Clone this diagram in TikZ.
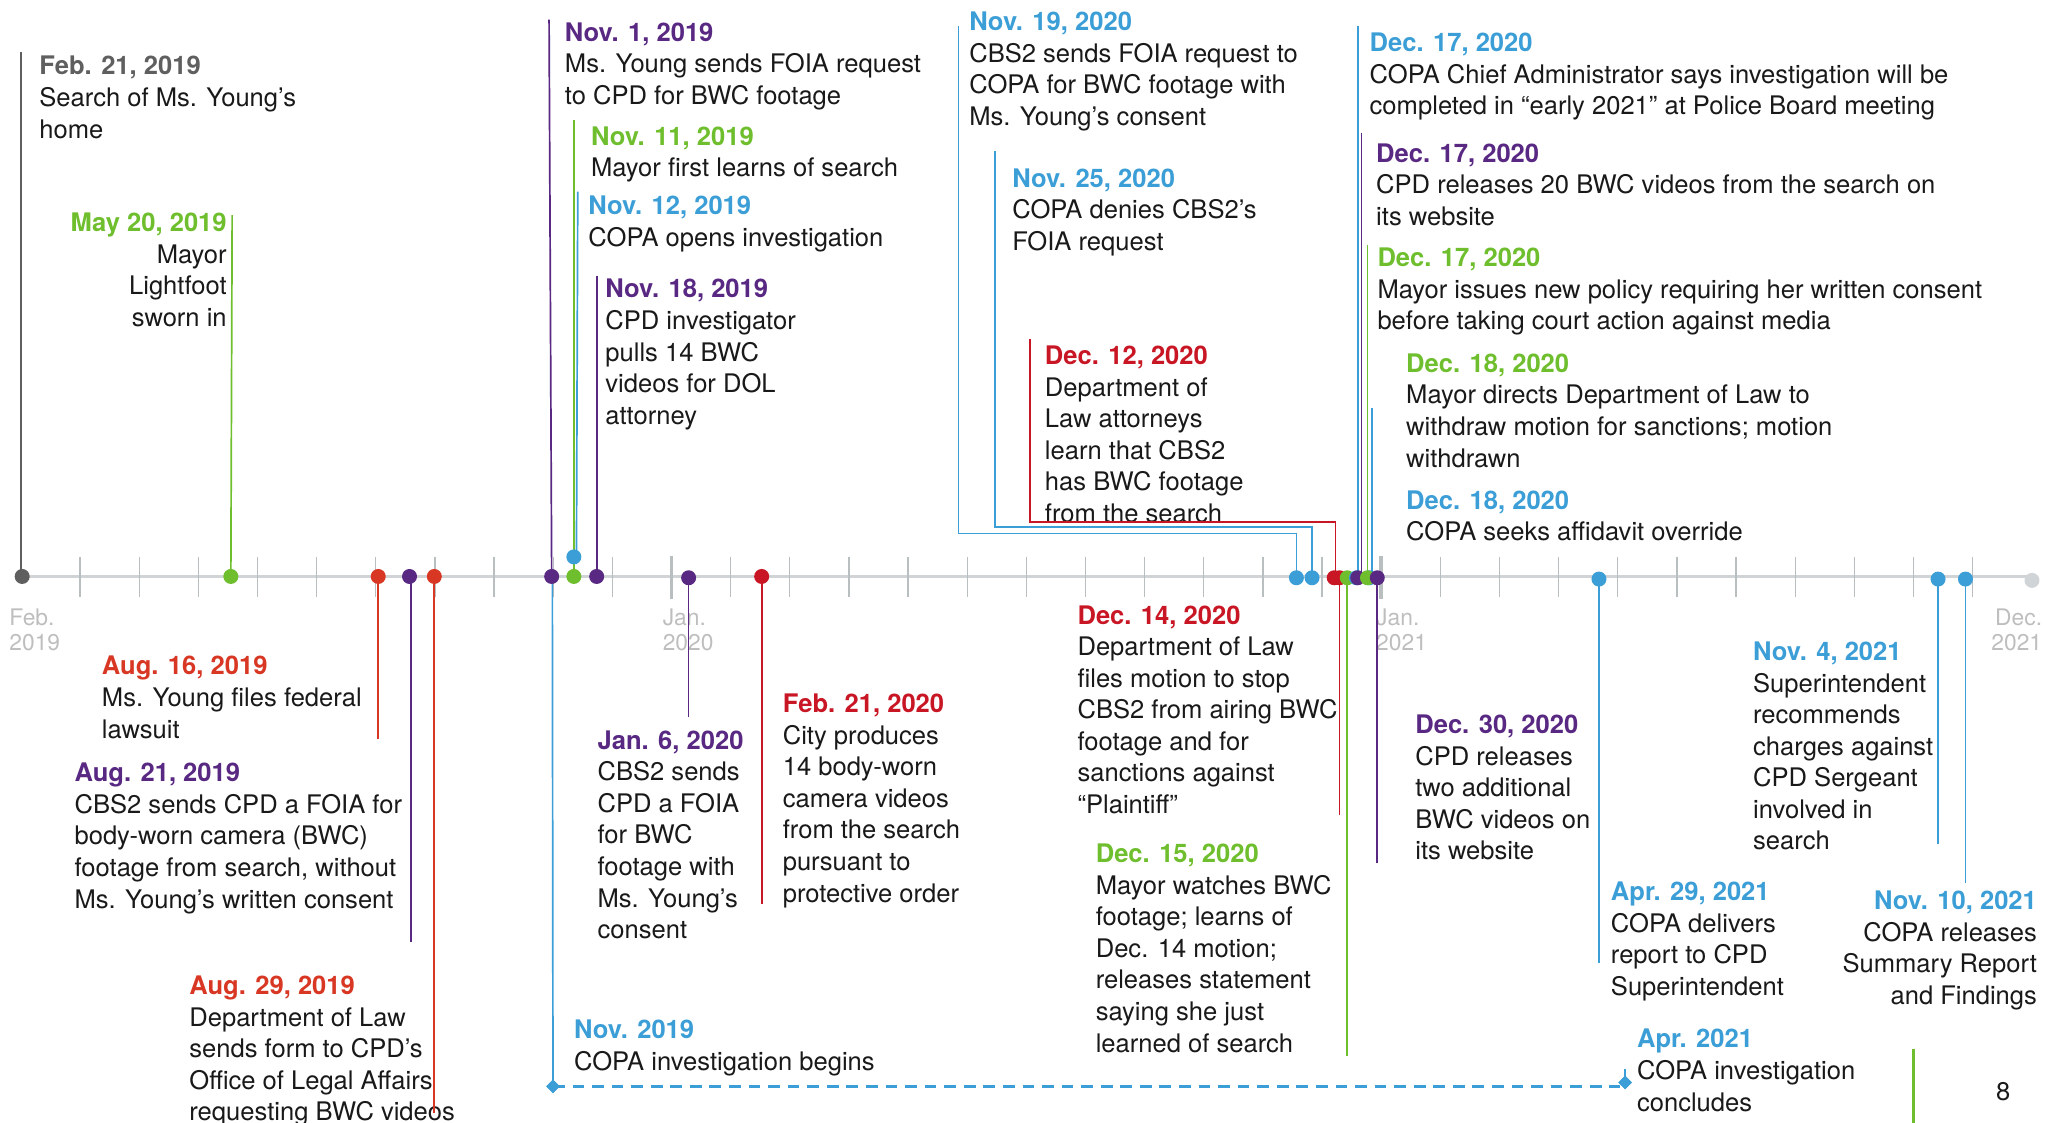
\documentclass[tikz,border=0pt]{standalone}
\usepackage{fontspec}
\setmainfont{TeX Gyre Heros}
\usetikzlibrary{shapes.geometric}
\definecolor{cgray}{RGB}{95,95,95}
\definecolor{cgreen}{RGB}{110,190,45}
\definecolor{cpurple}{RGB}{88,40,130}
\definecolor{cblue}{RGB}{60,158,214}
\definecolor{cred}{RGB}{200,22,36}
\definecolor{corange}{RGB}{215,55,35}
\definecolor{caxis}{RGB}{208,212,214}
\definecolor{ctick}{RGB}{185,190,192}
\definecolor{clabel}{RGB}{190,190,190}
\definecolor{ctext}{RGB}{25,25,25}
\newcommand\evfont{\fontsize{19.6}{24.2}\selectfont}
\newcommand\axfont{\fontsize{17.5}{18.5}\selectfont}
\newcommand\dt[2]{{\bfseries\color{#1}#2}}
\tikzset{
  txt/.style={anchor=north west, inner sep=0pt, align=left, font=\evfont, text=ctext},
  txtr/.style={anchor=north east, inner sep=0pt, align=right, font=\evfont, text=ctext},
  axlab/.style={anchor=north west, inner sep=0pt, align=left, font=\axfont, text=clabel},
  ln/.style={line width=1.3pt, draw=#1},
  dot/.style={circle, inner sep=0pt, minimum size=11.5pt, fill=#1, draw=none},
  dmd/.style={diamond, inner sep=0pt, minimum size=10.5pt, fill=cblue, draw=none},
}
\begin{document}
\begin{tikzpicture}[x=1pt,y=-1pt]
\useasboundingbox (0,0) rectangle (1568,861);
% axis
\draw[caxis, line width=2.5pt] (17,442) -- (1558,442);
\foreach \m in {1,...,33}{
  \draw[ctick, line width=1pt] ({16+45.35*\m},427) -- ({16+45.35*\m},458);
}
\draw[ctick, line width=3pt] ({16+45.35*11},426) -- ({16+45.35*11},459);
\draw[ctick, line width=3pt] ({16+45.35*23},426) -- ({16+45.35*23},459);
\node[axlab] (lfeb) at (7,467) {Feb.\\2019};
\node[axlab] (ljan20) at (508,467) {Jan.\\2020};
\node[axlab] (ljan21) at (1055,467) {Jan.\\2021};
\node[axlab, anchor=north east, align=right] (ldec) at (1566,467) {Dec.\\2021};

% texts above
\node[txt] (t01) at (30,43) {\dt{cgray}{Feb. 21, 2019}\\Search of Ms. Young’s\\home};
\node[txtr] (t02) at (174,163) {\dt{cgreen}{May 20, 2019}\\Mayor\\Lightfoot\\sworn in};
\node[txt] (t03) at (433,17) {\dt{cpurple}{Nov. 1, 2019}\\Ms. Young sends FOIA request\\to CPD for BWC footage};
\node[txt] (t04) at (453,97) {\dt{cgreen}{Nov. 11, 2019}\\Mayor first learns of search};
\node[txt] (t05) at (451,150) {\dt{cblue}{Nov. 12, 2019}\\COPA opens investigation};
\node[txt] (t06) at (464,214) {\dt{cpurple}{Nov. 18, 2019}\\CPD investigator\\pulls 14 BWC\\videos for DOL\\attorney};
\node[txt] (t07) at (743,9) {\dt{cblue}{Nov. 19, 2020}\\CBS2 sends FOIA request to\\COPA for BWC footage with\\Ms. Young’s consent};
\node[txt] (t08) at (776,129) {\dt{cblue}{Nov. 25, 2020}\\COPA denies CBS2’s\\FOIA request};
\node[txt] (t09) at (801,265) {\dt{cred}{Dec. 12, 2020}\\Department of\\Law attorneys\\learn that CBS2\\has BWC footage\\from the search};
\node[txt] (t10) at (1050,25) {\dt{cblue}{Dec. 17, 2020}\\COPA Chief Administrator says investigation will be\\completed in “early 2021” at Police Board meeting};
\node[txt] (t11) at (1055,110) {\dt{cpurple}{Dec. 17, 2020}\\CPD releases 20 BWC videos from the search on\\its website};
\node[txt] (t12) at (1056,190) {\dt{cgreen}{Dec. 17, 2020}\\Mayor issues new policy requiring her written consent\\before taking court action against media};
\node[txt] (t13) at (1078,271) {\dt{cgreen}{Dec. 18, 2020}\\Mayor directs Department of Law to\\withdraw motion for sanctions; motion\\withdrawn};
\node[txt] (t14) at (1078,376) {\dt{cblue}{Dec. 18, 2020}\\COPA seeks affidavit override};

% texts below
\node[txt] (b01) at (78,503) {\dt{corange}{Aug. 16, 2019}\\Ms. Young files federal\\lawsuit};
\node[txt] (b02) at (57,585) {\dt{cpurple}{Aug. 21, 2019}\\CBS2 sends CPD a FOIA for\\body-worn camera (BWC)\\footage from search, without\\Ms. Young’s written consent};
\node[txt] (b03) at (145,748) {\dt{corange}{Aug. 29, 2019}\\Department of Law\\sends form to CPD’s\\Office of Legal Affairs\\requesting BWC videos};
\node[txt] (b04) at (440,782) {\dt{cblue}{Nov. 2019}\\COPA investigation begins};
\node[txt] (b05) at (458,560) {\dt{cpurple}{Jan. 6, 2020}\\CBS2 sends\\CPD a FOIA\\for BWC\\footage with\\Ms. Young’s\\consent};
\node[txt] (b06) at (600,532) {\dt{cred}{Feb. 21, 2020}\\City produces\\14 body-worn\\camera videos\\from the search\\pursuant to\\protective order};
\node[txt] (b07) at (826,464) {\dt{cred}{Dec. 14, 2020}\\Department of Law\\files motion to stop\\CBS2 from airing BWC\\footage and for\\sanctions against\\“Plaintiff”};
\node[txt] (b08) at (840,647) {\dt{cgreen}{Dec. 15, 2020}\\Mayor watches BWC\\footage; learns of\\Dec. 14 motion;\\releases statement\\saying she just\\learned of search};
\node[txt] (b09) at (1085,548) {\dt{cpurple}{Dec. 30, 2020}\\CPD releases\\two additional\\BWC videos on\\its website};
\node[txt] (b10) at (1344,492) {\dt{cblue}{Nov. 4, 2021}\\Superintendent\\recommends\\charges against\\CPD Sergeant\\involved in\\search};
\node[txt] (b11) at (1235,676) {\dt{cblue}{Apr. 29, 2021}\\COPA delivers\\report to CPD\\Superintendent};
\node[txtr] (b12) at (1562,683) {\dt{cblue}{Nov. 10, 2021}\\COPA releases\\Summary Report\\and Findings};
\node[txt] (b13) at (1255,789) {\dt{cblue}{Apr. 2021}\\COPA investigation\\concludes};
\node[inner sep=0pt, font=\evfont, text=ctext] (pg) at (1536,837) {8};

% connector end coordinates
\coordinate (c01) at (16,40);
\coordinate (c02) at (178,165);
\coordinate (c03) at (290,567);
\coordinate (c04) at (315,722);
\coordinate (c05) at (333,853);
\coordinate (c06) at (421,15);
\coordinate (c07) at (440,92);
\coordinate (c08) at (443,147);
\coordinate (c09) at (458,212);
\coordinate (c10) at (528,550);
\coordinate (c11) at (584,693);
\coordinate (c12) at (735,20);
\coordinate (c13) at (763,116);
\coordinate (c14) at (790,260);
\coordinate (c15) at (1027,625);
\coordinate (c16) at (1033,810);
\coordinate (c17) at (1041,20);
\coordinate (c18) at (1044,102);
\coordinate (c19) at (1048.5,188);
\coordinate (c20) at (1052,313);
\coordinate (c21) at (1056,662);
\coordinate (c22) at (1226,738);
\coordinate (c23) at (1486,647);
\coordinate (c24) at (1507,677);
\coordinate (g1) at (1467,804);
\coordinate (g2) at (1467,861);
\coordinate (r0) at (1246,820);

% diamonds of the investigation span
\node[dmd] (m1) at (424,833) {};
\node[dmd] (m2) at (1246,830) {};

% connectors
\draw[ln=cgray] (c01) -- (16,442);
\draw[ln=cgreen] (c02) -- (177,442);
\draw[ln=corange] (c03) -- (290,442);
\draw[ln=cpurple] (c04) -- (315,442);
\draw[ln=corange] (c05) -- (333,442);
\draw[ln=cpurple] (c06) -- (423,442);
\draw[ln=cblue] (423.5,442) -- (m1.center);
\draw[ln=cgreen] (c07) -- (440,442);
\draw[ln=cblue] (c08) -- (442,427);
\draw[ln=cpurple] (c09) -- (458,442);
\draw[ln=cpurple] (c10) -- (528,442);
\draw[ln=cred] (c11) -- (584,442);
\draw[ln=cblue] (c12) |- (994,409) -- (994,442);
\draw[ln=cblue] (c13) |- (1006,404) -- (1006,442);
\draw[ln=cred] (c14) |- (1024,400) -- (1024,442);
\draw[ln=cred] (c15) -- (1027,442);
\draw[ln=cgreen] (c16) -- (1033,442);
\draw[ln=cblue] (c17) -- (1041,442);
\draw[ln=cpurple] (c18) -- (1044,442);
\draw[ln=cgreen] (c19) -- (1048.5,442);
\draw[ln=cblue] (c20) -- (1052,442);
\draw[ln=cpurple] (c21) -- (1056,442);
\draw[ln=cblue] (c22) -- (1226,442);
\draw[ln=cblue] (c23) -- (1486,442);
\draw[ln=cblue] (c24) -- (1507,442);
\draw[cgreen, line width=2pt] (g1) -- (g2);
\draw[cblue, line width=2pt, dash pattern=on 9pt off 6pt] (m1.center) -- (1242,833);
\draw[ln=cblue] (r0) -- (m2.center);
\node[dmd] at (m1) {};
\node[dmd] at (m2) {};

% dots
\node[dot=cgray] (d01) at (17,442) {};
\node[dot=cgreen] (d02) at (177,442) {};
\node[dot=corange] (d03) at (290,442) {};
\node[dot=cpurple] (d04) at (314,442) {};
\node[dot=corange] (d05) at (333,442) {};
\node[dot=cpurple] (d06) at (423,442) {};
\node[dot=cgreen] (d07) at (440,442) {};
\node[dot=cblue] (d08) at (440,427) {};
\node[dot=cpurple] (d09) at (457.5,442) {};
\node[dot=cpurple] (d10) at (528,443) {};
\node[dot=cred] (d11) at (584,442) {};
\node[dot=cblue] (d12) at (994,443) {};
\node[dot=cblue] (d13) at (1006,443) {};
\node[dot=cred] (d14) at (1023,443) {};
\node[dot=cred] (d15) at (1027,443) {};
\node[dot=cgreen] (d16) at (1033,443) {};
\node[dot=cblue] (d17) at (1040,443) {};
\node[dot=cpurple] (d18) at (1041,443) {};
\node[dot=cblue] (d20) at (1050,443) {};
\node[dot=cgreen] (d19) at (1048.5,443) {};
\node[dot=cpurple] (d21) at (1056,443) {};
\node[dot=cblue] (d22) at (1226,444) {};
\node[dot=cblue] (d23) at (1486,444) {};
\node[dot=cblue] (d24) at (1507,444) {};
\node[dot=caxis] (d25) at (1558,445) {};
\end{tikzpicture}
\end{document}
